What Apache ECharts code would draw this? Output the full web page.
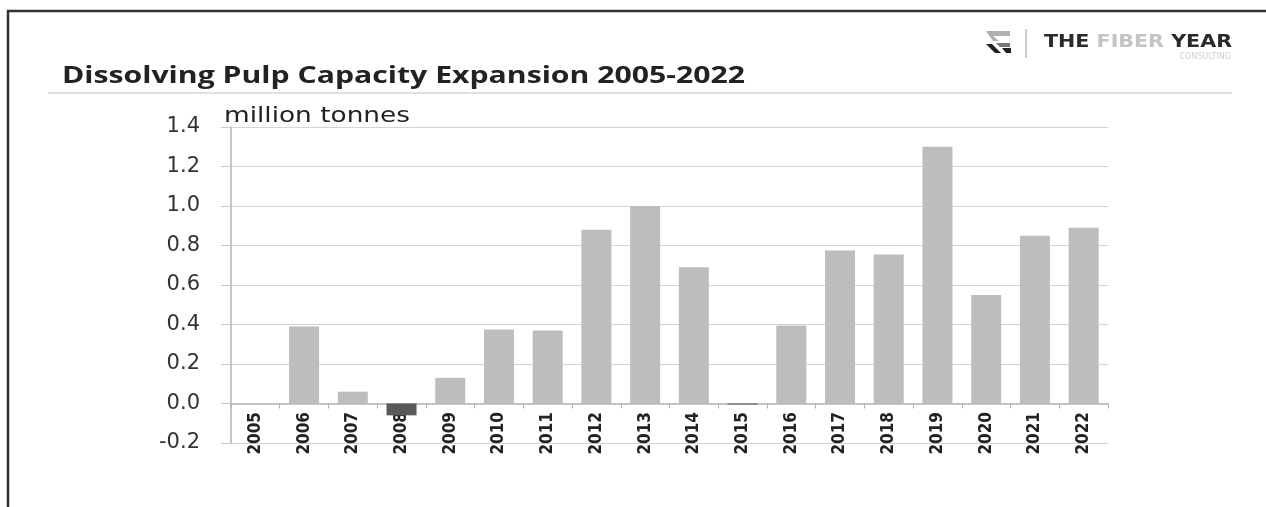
<!DOCTYPE html>
<html>
<head>
<meta charset="utf-8">
<script src="https://cdn.jsdelivr.net/npm/echarts@6/dist/echarts.min.js"></script>
<style>
html,body{margin:0;padding:0;background:#fff;}
#chart{width:1266px;height:507px;}
</style>
</head>
<body>
<div id="chart"></div>
<script>
// ---- data ----
const years = ['2005','2006','2007','2008','2009','2010','2011','2012','2013','2014','2015','2016','2017','2018','2019','2020','2021','2022'];
const capacity = [0, 0.39, 0.06, -0.06, 0.13, 0.375, 0.37, 0.88, 1.0, 0.69, -0.005, 0.395, 0.775, 0.755, 1.30, 0.55, 0.85, 0.89];
const yMin = -0.2, yMax = 1.4, yStep = 0.2;
const titleText = 'Dissolving Pulp Capacity Expansion 2005-2022';
const unitText = 'million tonnes';

// ---- helpers ----
const mctx = document.createElement('canvas').getContext('2d');
function fit(text, font, target) { mctx.font = font; return target / mctx.measureText(text).width; }

const titleFont = 'bold 23px "Open Sans"';
const unitFont = '21px "DejaVu Sans"';
const logoFont = 'bold 17px "DejaVu Sans"';
const consFont = '8px "DejaVu Sans"';

const chart = echarts.init(document.getElementById('chart'), null, {renderer: 'canvas'});
chart.setOption({
  backgroundColor: '#fff',
  animation: false,
  grid: {left: 231, top: 127, width: 877, height: 316},
  xAxis: {
    type: 'category',
    data: years,
    axisLine: {onZero: true, lineStyle: {color: '#b5b5b5', width: 1.5}},
    axisTick: {show: true, length: 5, lineStyle: {color: '#b5b5b5'}},
    axisLabel: {rotate: 90, margin: -31, fontFamily: '"DejaVu Sans Condensed", "Liberation Sans Narrow", "Liberation Sans"', fontWeight: 'bold', fontSize: 17, color: '#222', interval: 0}
  },
  yAxis: {
    type: 'value',
    min: yMin, max: yMax, interval: yStep,
    axisLine: {show: true, lineStyle: {color: '#b5b5b5', width: 1.5}},
    axisTick: {show: true, length: 10, lineStyle: {color: '#c8c8c8'}},
    splitLine: {lineStyle: {color: '#d4d4d4', width: 1.2}},
    axisLabel: {formatter: v => v.toFixed(1), fontFamily: '"DejaVu Sans"', fontSize: 21, color: '#333', margin: 31}
  },
  series: [{
    type: 'bar',
    data: capacity,
    barWidth: 30,
    itemStyle: {color: p => p.value < 0 ? '#595959' : '#bdbdbd'}
  }],
  graphic: [
    {type: 'rect', shape: {x: 8, y: 11, width: 1300, height: 600}, style: {fill: 'none', stroke: '#333', lineWidth: 2.5}, silent: true},
    {type: 'text', x: 62, y: 76, scaleX: fit(titleText, titleFont, 683),
      style: {text: titleText, font: titleFont, fill: '#222', textVerticalAlign: 'middle'}},
    {type: 'line', shape: {x1: 48, y1: 93, x2: 1232, y2: 93}, style: {stroke: '#e0e0e0', lineWidth: 2}},
    {type: 'text', x: 224, y: 117, scaleX: fit(unitText, unitFont, 186),
      style: {text: unitText, font: unitFont, fill: '#222', textVerticalAlign: 'middle'}},
    // logo icon
    {type: 'polygon', shape: {points: [[986,31],[1010,31],[1010,36],[993,36],[999,41],[993,41]]}, style: {fill: '#b0b0b0'}},
    {type: 'polygon', shape: {points: [[996,43],[1010,43],[1010,47],[1000,47]]}, style: {fill: '#777'}},
    {type: 'polygon', shape: {points: [[986,44],[992,44],[1001,53],[995,53]]}, style: {fill: '#222'}},
    {type: 'polygon', shape: {points: [[1002,48],[1011,48],[1011,53],[1006,53]]}, style: {fill: '#222'}},
    {type: 'line', shape: {x1: 1026, y1: 29, x2: 1026, y2: 58}, style: {stroke: '#bbb', lineWidth: 1.5}},
    {type: 'text', x: 1044, y: 43, scaleX: fit('THE FIBER YEAR', logoFont, 188),
      style: {text: '{a|THE }{b|FIBER }{a|YEAR}', font: logoFont, textVerticalAlign: 'middle',
        rich: {a: {fill: '#2a2a2a', font: logoFont}, b: {fill: '#c4c4c4', font: logoFont}}}},
    {type: 'text', x: 1231, y: 57, style: {text: 'CONSULTING', font: consFont, fill: '#cfcfcf', textAlign: 'right', textVerticalAlign: 'middle'}}
  ]
});
</script>
</body>
</html>
